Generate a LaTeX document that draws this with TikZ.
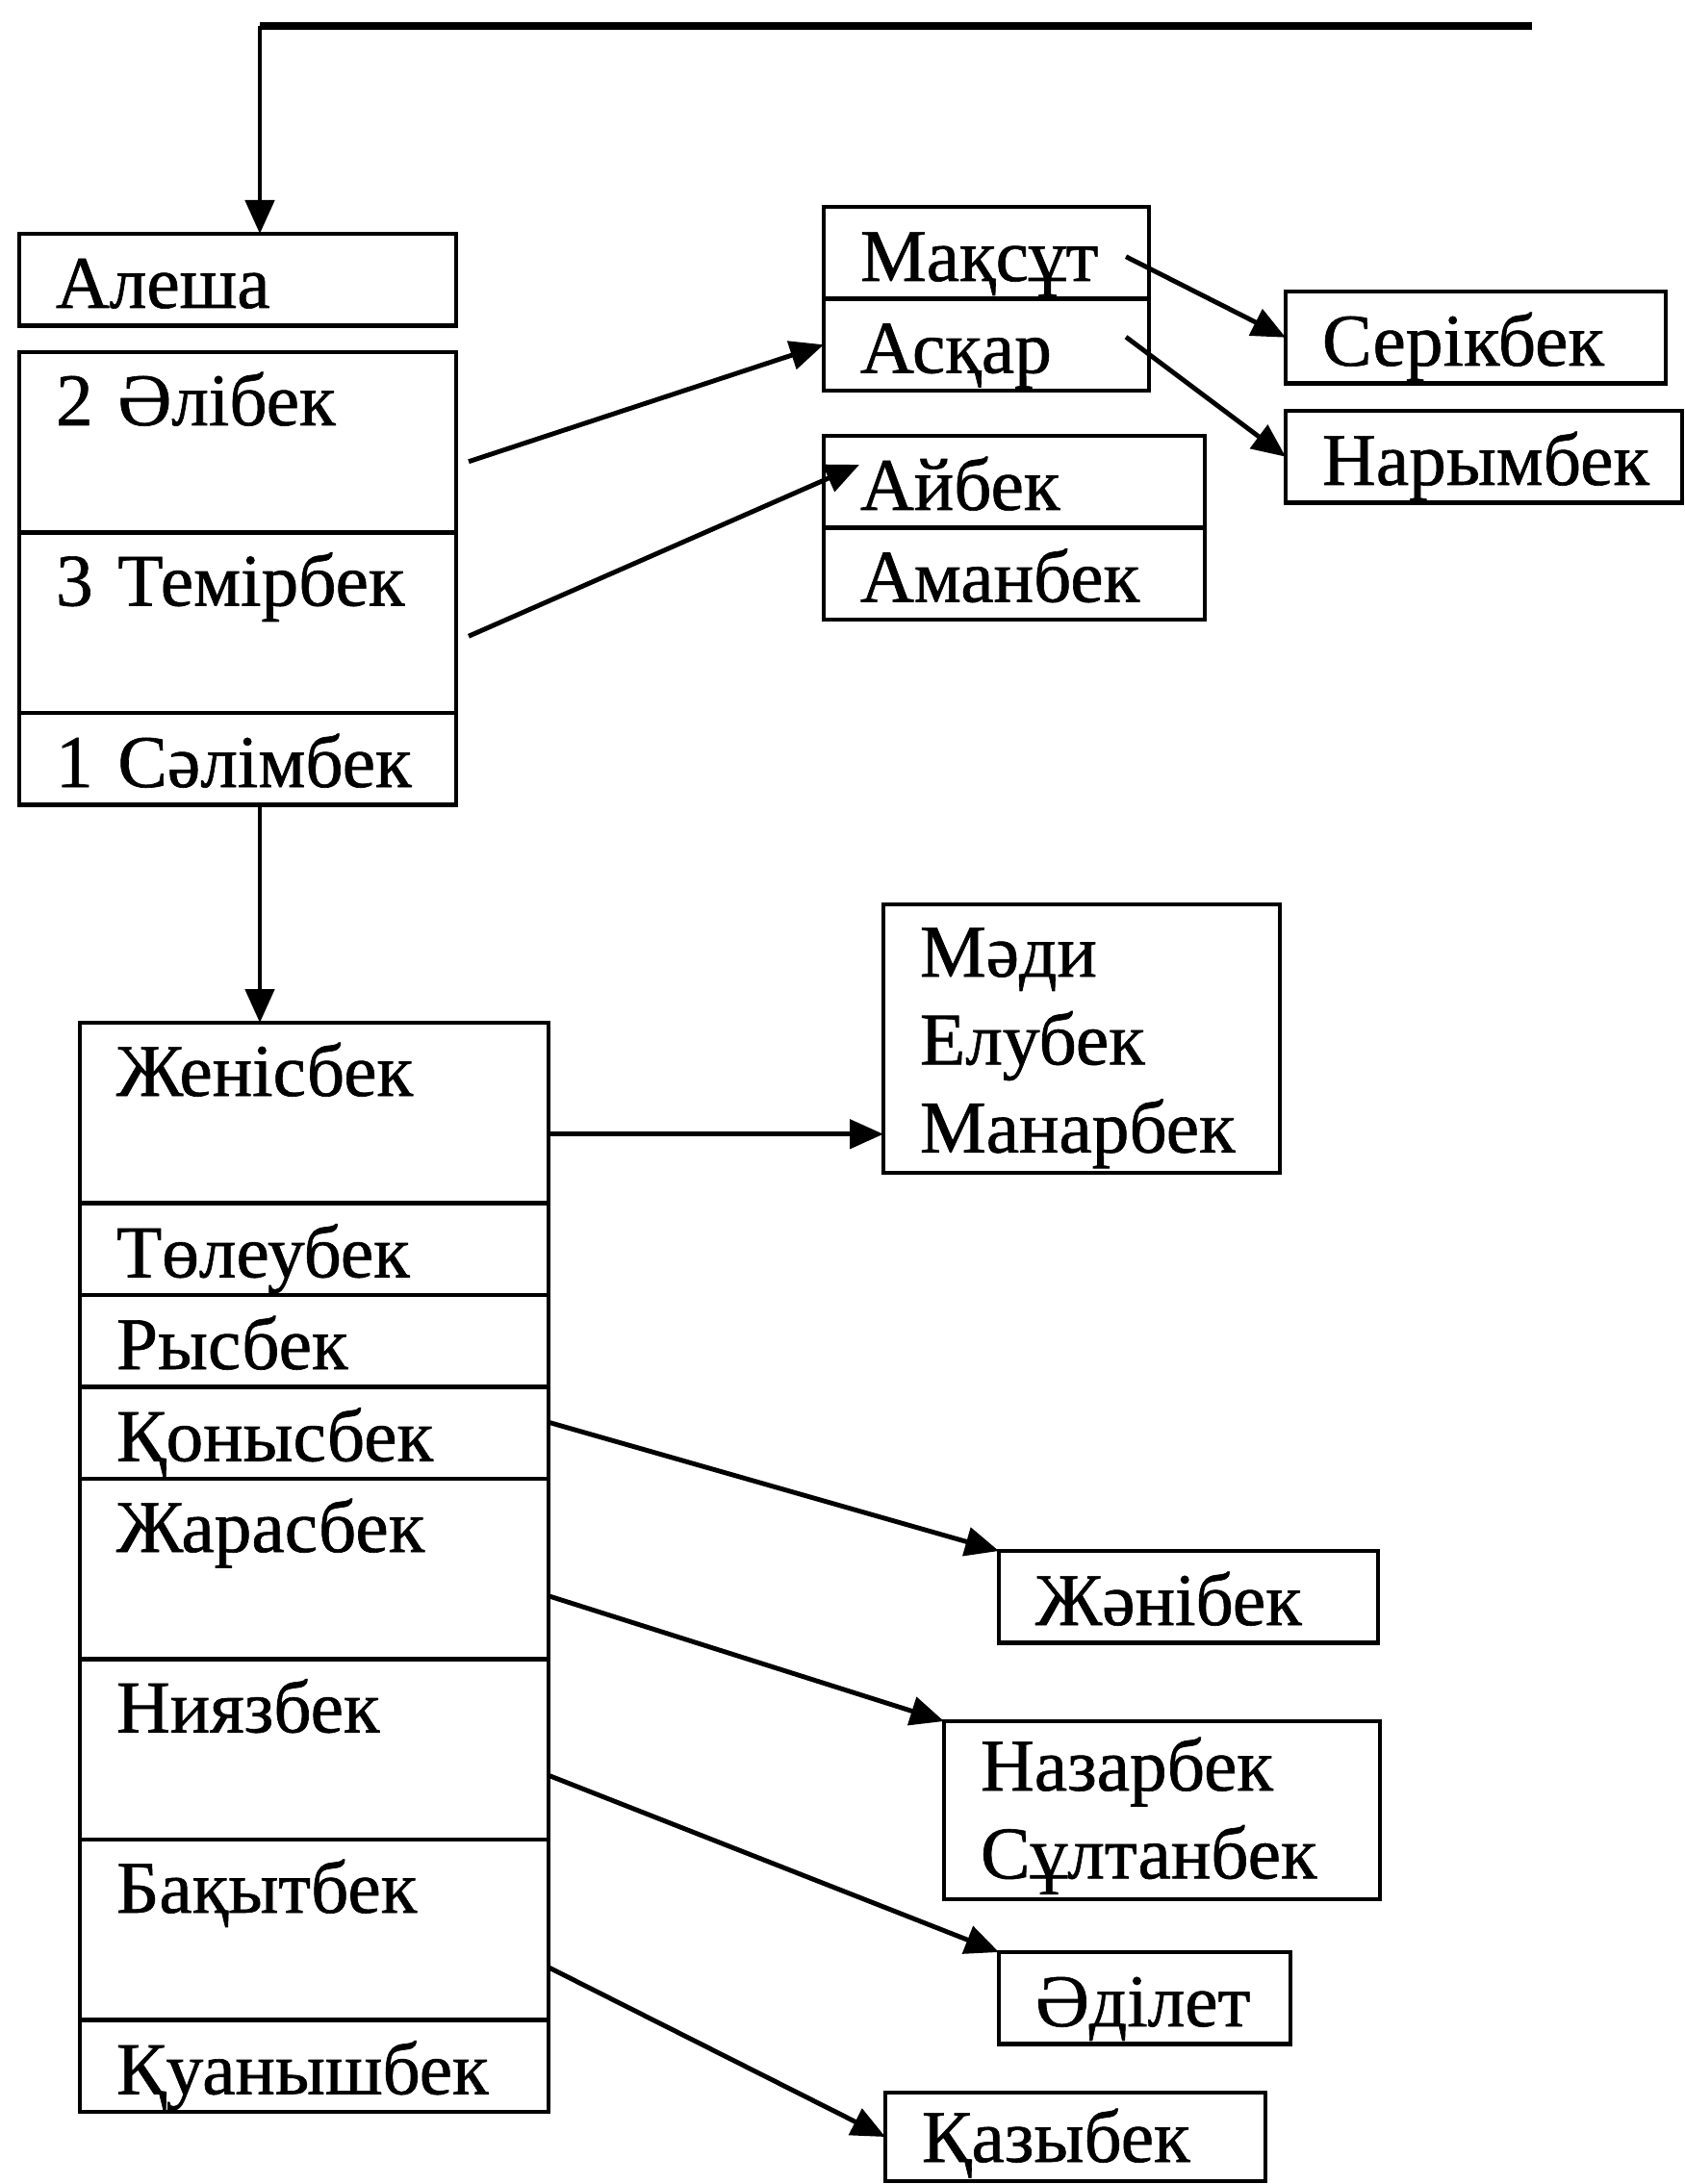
\documentclass[tikz,border=0pt]{standalone}
\usepackage{fontspec}
\setmainfont{Liberation Serif}[FakeBold=0.8]
\usetikzlibrary{arrows.meta,positioning,calc}

\begin{document}
\begin{tikzpicture}[
  cell/.style={draw, rectangle, line width=1.4pt, outer sep=0pt, anchor=north west, inner xsep=0.38cm, inner ysep=0pt, align=left, font=\fontsize{22pt}{26pt}\selectfont},
  short/.style={text height=0.77cm, text depth=0.185cm},
  tall/.style={text height=0.76cm, text depth=1.115cm},
  flow/.style={-{Triangle[length=3.5mm, width=3mm]}, line width=1.4pt}
]
\useasboundingbox (0,0) rectangle (17.5,-22.7);

% Upper family
\node[cell, short, text width=3.78cm] (alesha) at (0.20,-2.43) {Алеша};
\node[cell, tall, text width=3.78cm] (alibek) at (0.20,-3.66) {2 Әлібек};
\node[cell, tall, text width=3.78cm] (temirbek) at (alibek.south west) {3 Темірбек};
\node[cell, short, text width=3.78cm] (salimbek) at (temirbek.south west) {1 Сәлімбек};

\node[cell, short, text width=2.62cm] (maksut) at (8.56,-2.15) {Мақсұт};
\node[cell, short, text width=2.62cm] (askar) at (maksut.south west) {Асқар};
\node[cell, short, text width=3.20cm] (aibek) at (8.56,-4.53) {Айбек};
\node[cell, short, text width=3.20cm] (amanbek) at (aibek.south west) {Аманбек};

\node[cell, short, text width=3.19cm] (serikbek) at (13.36,-3.03) {Серікбек};
\node[cell, short, text width=3.36cm] (narymbek) at (13.36,-4.27) {Нарымбек};

% Lower family
\node[cell, tall, text width=4.11cm] (zhenisbek) at (0.83,-10.63) {Женісбек};
\node[cell, short, text width=4.11cm] (toleubek) at (zhenisbek.south west) {Төлеубек};
\node[cell, short, text width=4.11cm] (rysbek) at (toleubek.south west) {Рысбек};
\node[cell, short, text width=4.11cm] (qonysbek) at (rysbek.south west) {Қонысбек};
\node[cell, tall, text width=4.11cm] (zharasbek) at (qonysbek.south west) {Жарасбек};
\node[cell, tall, text width=4.11cm] (niyazbek) at (zharasbek.south west) {Ниязбек};
\node[cell, tall, text width=4.11cm] (baqytbek) at (niyazbek.south west) {Бақытбек};
\node[cell, short, text width=4.11cm] (quanyshbek) at (baqytbek.south west) {Қуанышбек};

\node[cell, text width=3.36cm, text height=0.75cm, text depth=2.04cm] (madi) at (9.18,-9.40) {Мәди\\Елубек\\Манарбек};
\node[cell, short, text width=3.18cm] (zhanibek) at (10.38,-16.12) {Жәнібек};
\node[cell, text width=3.77cm, text height=0.72cm, text depth=1.13cm] (nazarbek) at (9.81,-17.89) {Назарбек\\Сұлтанбек};
\node[cell, short, text width=2.27cm] (adilet) at (10.38,-20.29) {Әділет};
\node[cell, text width=3.19cm, text height=0.72cm, text depth=0.20cm] (qazybek) at (9.20,-21.75) {Қазыбек};

\coordinate (feed) at (15.92,-0.27);
\coordinate (spine) at (2.70,-0.27);

% Connections
\draw[line width=2pt] (feed) -- (spine);
\draw[flow] (spine) -- (spine |- alesha.north);
\draw[flow] (spine |- salimbek.south) -- (spine |- zhenisbek.north);

\draw[flow] ([xshift=0.13cm, yshift=-0.20cm]alibek.east) -- (askar.west);
\draw[flow] ([xshift=0.13cm, yshift=-0.14cm]temirbek.east) -- ([xshift=0.37cm, yshift=-0.30cm]aibek.north west);
\draw[flow] ([xshift=-0.24cm, yshift=-0.04cm]maksut.east) -- (serikbek.west);
\draw[flow] ([xshift=-0.24cm, yshift=0.08cm]askar.east) -- (narymbek.west);

\coordinate (zs) at ([yshift=-0.22cm]zhenisbek.east);
\draw[flow] (zs) -- (zs -| madi.west);
\draw[flow] ([yshift=0.11cm]qonysbek.east) -- (zhanibek.north west);
\draw[flow] ([yshift=-0.28cm]zharasbek.east) -- (nazarbek.north west);
\draw[flow] ([yshift=-0.27cm]niyazbek.east) -- (adilet.north west);
\draw[flow] ([yshift=-0.39cm]baqytbek.east) -- (qazybek.west);

\end{tikzpicture}
\end{document}
